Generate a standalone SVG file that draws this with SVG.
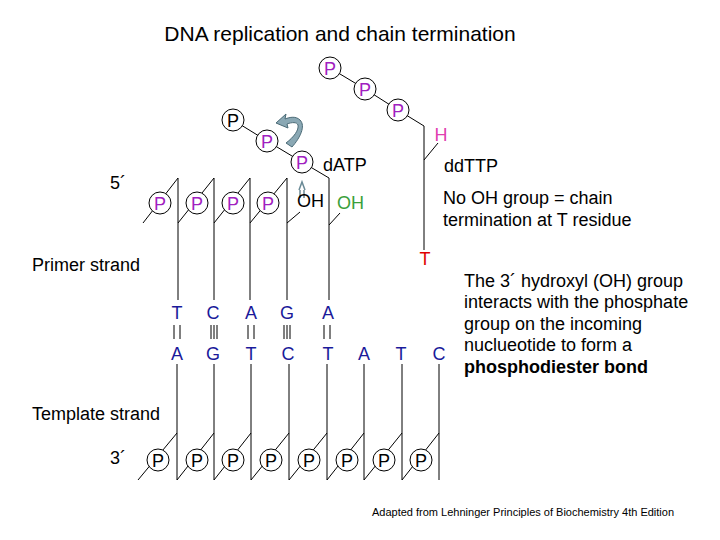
<svg xmlns="http://www.w3.org/2000/svg" width="720" height="540" viewBox="0 0 720 540">
<style>
text{font-family:"Liberation Sans",Arial,sans-serif;}
.l{stroke:#000;stroke-width:1;fill:none}
.c{fill:#fff;stroke:#000;stroke-width:1}
.pp{fill:#a020c0;font-size:18px;text-anchor:middle}
.pb{fill:#000;font-size:18px;text-anchor:middle}
.b{fill:#1a1a9a;font-size:18px;text-anchor:middle}
.t{font-size:18px;fill:#000}
</style>
<rect width="720" height="540" fill="#fff"/>
<text x="340" y="41" text-anchor="middle" style="font-size:21px">DNA replication and chain termination</text>
<g id="connectors">
<path class="l" d="M143,223 L178,178 L178,300 M178,223 L214,178 L214,300 M214,223 L250,178 L250,300 M250,223 L287,178 L287,300 M287,223 L300,212 M329,300 L329,178 L302,162 L267,141 L233,120 M329,225 L340,213"/>
<path class="l" d="M330,68 L365,89 L398,110 L424,126 L424,250 M424,160 L438,143"/>
<path class="l" d="M138,480 L177,433 M177,364 L177,480 L214,433 M214,364 L214,480 L251,433 M251,364 L251,480 L289,433 M289,364 L289,480 L327,433 M327,364 L327,480 L364,433 M364,364 L364,480 L402,433 M402,364 L402,480 L439,433 M439,364 L439,480"/>
<path class="l" d="M174,325v14M180,325v14M211,325v14M214,325v14M217,325v14M248,325v14M254,325v14M284,325v14M287,325v14M290,325v14M324,325v14M330,325v14"/>
<path d="M299,190 L302,182 L305,190 M300,190 v8 M304,190 v8" fill="none" stroke="#6a8a96" stroke-width="1.5"/>
<path d="M292,147 C300,138 306,126 300,120 C296,116 290,117 285,119 L286,114 L276,123 L288,128 L287,124 C292,122 297,122 298,125 C299,130 294,137 286,143 Z" fill="#8aa8b4" stroke="#4a6a76"/>
</g>
<g id="primer">
<circle class="c" cx="160" cy="203" r="11"/><text class="pp" x="160" y="210">P</text>
<circle class="c" cx="197" cy="203" r="11"/><text class="pp" x="197" y="210">P</text>
<circle class="c" cx="233" cy="203" r="11"/><text class="pp" x="233" y="210">P</text>
<circle class="c" cx="268" cy="203" r="11"/><text class="pp" x="268" y="210">P</text>
<text class="t" x="297" y="207">OH</text>
<text x="337" y="209" style="font-size:18px" fill="#3aa03a">OH</text>
</g>
<g id="dATP">
<circle class="c" cx="302" cy="162" r="11"/><text class="pp" x="302" y="169">P</text>
<circle class="c" cx="267" cy="141" r="11"/><text class="pp" x="267" y="148">P</text>
<circle class="c" cx="233" cy="120" r="11"/><text class="pb" x="233" y="127">P</text>
<text class="t" x="323" y="171">dATP</text>
</g>
<g id="ddTTP">
<circle class="c" cx="330" cy="68" r="11"/><text class="pp" x="330" y="75">P</text>
<circle class="c" cx="365" cy="89" r="11"/><text class="pp" x="365" y="96">P</text>
<circle class="c" cx="398" cy="110" r="11"/><text class="pp" x="398" y="117">P</text>
<text x="441" y="141" style="font-size:18px" fill="#e040b0" text-anchor="middle">H</text>
<text x="425" y="265" style="font-size:18px" fill="#e00000" text-anchor="middle">T</text>
<text class="t" x="444" y="172">ddTTP</text>
</g>
<g id="bases">
<text class="b" x="177" y="319">T</text><text class="b" x="213" y="319">C</text><text class="b" x="251" y="319">A</text><text class="b" x="287" y="319">G</text><text class="b" x="328" y="319">A</text>
<text class="b" x="177" y="360">A</text><text class="b" x="213" y="360">G</text><text class="b" x="251" y="360">T</text><text class="b" x="288" y="360">C</text><text class="b" x="328" y="360">T</text><text class="b" x="364" y="360">A</text><text class="b" x="401" y="360">T</text><text class="b" x="439" y="360">C</text>
</g>
<g id="template">
<circle class="c" cx="158" cy="460" r="11"/><text class="pb" x="158" y="467">P</text>
<circle class="c" cx="197" cy="460" r="11"/><text class="pb" x="197" y="467">P</text>
<circle class="c" cx="233" cy="460" r="11"/><text class="pb" x="233" y="467">P</text>
<circle class="c" cx="271" cy="460" r="11"/><text class="pb" x="271" y="467">P</text>
<circle class="c" cx="309" cy="460" r="11"/><text class="pb" x="309" y="467">P</text>
<circle class="c" cx="347" cy="460" r="11"/><text class="pb" x="347" y="467">P</text>
<circle class="c" cx="384" cy="460" r="11"/><text class="pb" x="384" y="467">P</text>
<circle class="c" cx="421" cy="460" r="11"/><text class="pb" x="421" y="467">P</text>
</g>
<g id="labels">
<text class="t" x="110" y="189">5´</text>
<text class="t" x="110" y="464">3´</text>
<text class="t" x="32" y="271">Primer strand</text>
<text class="t" x="32" y="420">Template strand</text>
<text class="t" x="443" y="204">No OH group = chain</text>
<text class="t" x="443" y="226">termination at T residue</text>
<text class="t" x="464" y="287">The 3´ hydroxyl (OH) group</text>
<text class="t" x="464" y="308">interacts with the phosphate</text>
<text class="t" x="464" y="330">group on the incoming</text>
<text class="t" x="464" y="351">nuclueotide to form a</text>
<text class="t" x="464" y="373" style="font-weight:bold">phosphodiester bond</text>
<text x="372" y="516" style="font-size:11px">Adapted from Lehninger Principles of Biochemistry 4th Edition</text>
</g>
</svg>
